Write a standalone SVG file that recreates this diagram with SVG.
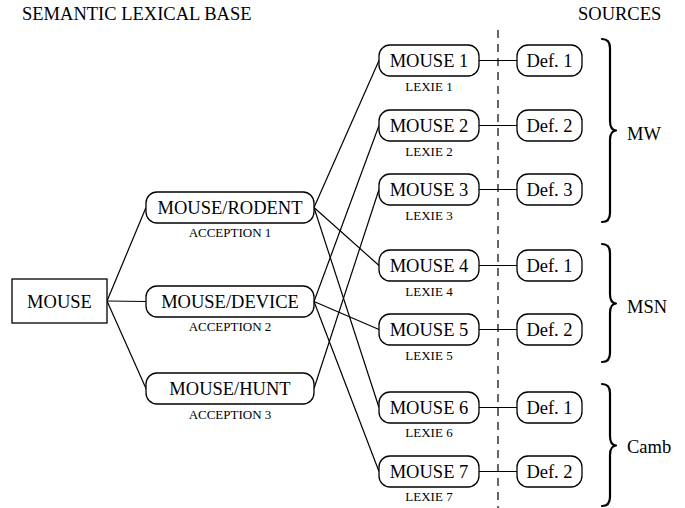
<svg xmlns="http://www.w3.org/2000/svg" width="685" height="508" viewBox="0 0 685 508" font-family="'Liberation Serif', 'Times New Roman', serif">
<style>
text{font-family:'Liberation Serif','Times New Roman',serif;fill:#000}
.big{font-size:18.5px}
.small{font-size:13px}
.mid{text-anchor:middle}
.box{fill:#fff;stroke:#000;stroke-width:1.3}
.ln{stroke:#000;stroke-width:1.2;fill:none}
.dash{stroke:#000;stroke-width:1.2;stroke-dasharray:8 6;fill:none}
.brace{stroke:#000;stroke-width:2.2;fill:none;stroke-linejoin:round;stroke-linecap:round}
</style>
<rect width="685" height="508" fill="#fff"/>
<text class="big" x="22" y="20">SEMANTIC LEXICAL BASE</text>
<text class="big" x="578" y="20">SOURCES</text>
<line class="dash" x1="498" y1="30" x2="498" y2="508"/>
<g id="connectors">
<line class="ln" x1="107" y1="301" x2="146" y2="207.5"/>
<line class="ln" x1="107" y1="301" x2="146" y2="301.5"/>
<line class="ln" x1="107" y1="301" x2="146" y2="388.5"/>
<line class="ln" x1="314" y1="207.5" x2="379" y2="60.5"/>
<line class="ln" x1="314" y1="207.5" x2="379" y2="265.5"/>
<line class="ln" x1="314" y1="207.5" x2="379" y2="407.5"/>
<line class="ln" x1="314" y1="301.5" x2="379" y2="125.5"/>
<line class="ln" x1="314" y1="301.5" x2="379" y2="329.5"/>
<line class="ln" x1="314" y1="301.5" x2="379" y2="471.5"/>
<line class="ln" x1="314" y1="388.5" x2="379" y2="189.5"/>
<line class="ln" x1="479" y1="60.5" x2="517" y2="60.5"/>
<line class="ln" x1="479" y1="125.5" x2="517" y2="125.5"/>
<line class="ln" x1="479" y1="189.5" x2="517" y2="189.5"/>
<line class="ln" x1="479" y1="265.5" x2="517" y2="265.5"/>
<line class="ln" x1="479" y1="329.5" x2="517" y2="329.5"/>
<line class="ln" x1="479" y1="407.5" x2="517" y2="407.5"/>
<line class="ln" x1="479" y1="471.5" x2="517" y2="471.5"/>
</g>
<g id="mouse">
<rect class="box" x="12" y="279" width="95" height="44"/>
<text class="big mid" x="59.5" y="307.5">MOUSE</text>
</g>
<g id="acc1">
<rect class="box" x="146" y="192" width="168" height="31" rx="11"/>
<text class="big mid" x="230" y="214">MOUSE/RODENT</text>
<text class="small mid" x="230" y="237">ACCEPTION 1</text>
</g>
<g id="acc2">
<rect class="box" x="146" y="286" width="168" height="31" rx="11"/>
<text class="big mid" x="230" y="308">MOUSE/DEVICE</text>
<text class="small mid" x="230" y="331">ACCEPTION 2</text>
</g>
<g id="acc3">
<rect class="box" x="146" y="373" width="168" height="31" rx="11"/>
<text class="big mid" x="230" y="395">MOUSE/HUNT</text>
<text class="small mid" x="230" y="419">ACCEPTION 3</text>
</g>
<g id="lex1">
<rect class="box" x="379" y="45" width="100" height="31" rx="11"/>
<text class="big mid" x="429" y="67">MOUSE 1</text>
<text class="small mid" x="429" y="91">LEXIE 1</text>
</g>
<g id="lex2">
<rect class="box" x="379" y="110" width="100" height="31" rx="11"/>
<text class="big mid" x="429" y="132">MOUSE 2</text>
<text class="small mid" x="429" y="156">LEXIE 2</text>
</g>
<g id="lex3">
<rect class="box" x="379" y="174" width="100" height="31" rx="11"/>
<text class="big mid" x="429" y="196">MOUSE 3</text>
<text class="small mid" x="429" y="220">LEXIE 3</text>
</g>
<g id="lex4">
<rect class="box" x="379" y="250" width="100" height="31" rx="11"/>
<text class="big mid" x="429" y="272">MOUSE 4</text>
<text class="small mid" x="429" y="296">LEXIE 4</text>
</g>
<g id="lex5">
<rect class="box" x="379" y="314" width="100" height="31" rx="11"/>
<text class="big mid" x="429" y="336">MOUSE 5</text>
<text class="small mid" x="429" y="360">LEXIE 5</text>
</g>
<g id="lex6">
<rect class="box" x="379" y="392" width="100" height="31" rx="11"/>
<text class="big mid" x="429" y="414">MOUSE 6</text>
<text class="small mid" x="429" y="437">LEXIE 6</text>
</g>
<g id="lex7">
<rect class="box" x="379" y="456" width="100" height="31" rx="11"/>
<text class="big mid" x="429" y="478">MOUSE 7</text>
<text class="small mid" x="429" y="501">LEXIE 7</text>
</g>
<g id="def1"><rect class="box" x="517" y="45" width="65" height="31" rx="11"/><text class="big mid" x="549.5" y="67">Def. 1</text></g>
<g id="def2"><rect class="box" x="517" y="110" width="65" height="31" rx="11"/><text class="big mid" x="549.5" y="132">Def. 2</text></g>
<g id="def3"><rect class="box" x="517" y="174" width="65" height="31" rx="11"/><text class="big mid" x="549.5" y="196">Def. 3</text></g>
<g id="def4"><rect class="box" x="517" y="250" width="65" height="31" rx="11"/><text class="big mid" x="549.5" y="272">Def. 1</text></g>
<g id="def5"><rect class="box" x="517" y="314" width="65" height="31" rx="11"/><text class="big mid" x="549.5" y="336">Def. 2</text></g>
<g id="def6"><rect class="box" x="517" y="392" width="65" height="31" rx="11"/><text class="big mid" x="549.5" y="414">Def. 1</text></g>
<g id="def7"><rect class="box" x="517" y="456" width="65" height="31" rx="11"/><text class="big mid" x="549.5" y="478">Def. 2</text></g>
<g id="mw">
<path class="brace" d="M602 39 Q610 39 610 48 L610 121 Q610 130 616 130.5 Q610 131 610 140 L610 213 Q610 222 602 222"/>
<text class="big" x="627" y="140">MW</text>
</g>
<g id="msn">
<path class="brace" d="M602 244 Q610 244 610 253 L610 294 Q610 303 616 303.5 Q610 304 610 313 L610 353 Q610 362 602 362"/>
<text class="big" x="627" y="313">MSN</text>
</g>
<g id="camb">
<path class="brace" d="M602 384 Q610 384 610 393 L610 436 Q610 445 616 445.5 Q610 446 610 455 L610 497 Q610 506 602 506"/>
<text class="big" x="627" y="453">Camb</text>
</g>
</svg>
